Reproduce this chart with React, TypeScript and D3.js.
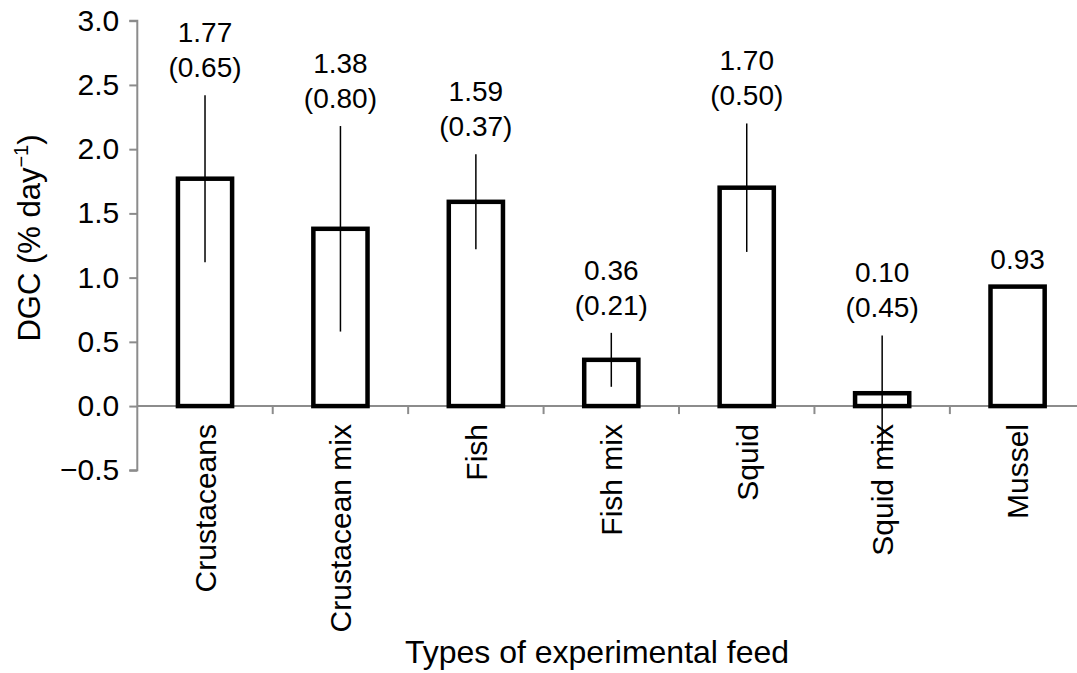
import { useRef, useEffect } from "react";
import * as d3 from "d3";

const categories = [
  "Crustaceans",
  "Crustacean mix",
  "Fish",
  "Fish mix",
  "Squid",
  "Squid mix",
  "Mussel",
];
const means = [1.77, 1.38, 1.59, 0.36, 1.7, 0.1, 0.93];
// standard deviations, null where none was reported
const sds: (number | null)[] = [0.65, 0.8, 0.37, 0.21, 0.5, 0.45, null];
const yTicks = [-0.5, 0, 0.5, 1.0, 1.5, 2.0, 2.5, 3.0];

export default function App() {
  const svgRef = useRef<SVGSVGElement>(null);
  const width = 1077;
  const height = 673;

  useEffect(() => {
    const svg = d3.select(svgRef.current);
    svg.selectAll("*").remove();

    const font = "'Liberation Sans', Arial, sans-serif";
    const axisColor = "#8c8c8c";

    const x = d3
      .scaleBand<string>()
      .domain(categories)
      .range([137.3, 1085.3])
      .padding(0);

    const y = d3.scaleLinear().domain([-0.5, 3.0]).range([470.3, 20.7]);

    const data = categories.map((c, i) => ({ cat: c, mean: means[i], sd: sds[i] }));
    const bw = x.bandwidth();
    const barW = bw * 0.4;

    // y axis
    const yAxis = d3
      .axisLeft(y)
      .tickValues(yTicks)
      .tickSize(8)
      .tickPadding(10)
      .tickFormat((d) => {
        const v = d as number;
        return v < 0 ? "\u2212" + d3.format(".1f")(-v) : d3.format(".1f")(v);
      });
    const gy = svg.append("g").attr("transform", "translate(137.3,0)").call(yAxis);
    gy.select(".domain").attr("stroke", axisColor).attr("stroke-width", 2);
    gy.selectAll(".tick line").attr("stroke", axisColor).attr("stroke-width", 2);
    gy.selectAll(".tick text")
      .attr("fill", "#000")
      .style("font-family", font)
      .style("font-size", "30px");
    gy.selectAll("path.domain").attr("d", `M-8,${y(3)}H0V${y(-0.5)}H-8`);

    // x axis at zero
    const gx = svg.append("g");
    gx.append("line")
      .attr("x1", 137.3)
      .attr("x2", width)
      .attr("y1", y(0))
      .attr("y2", y(0))
      .attr("stroke", axisColor)
      .attr("stroke-width", 2);
    gx.selectAll(".xtick")
      .data(categories.slice(1))
      .enter()
      .append("line")
      .attr("x1", (d) => x(d)!)
      .attr("x2", (d) => x(d)!)
      .attr("y1", y(0))
      .attr("y2", y(0) + 8)
      .attr("stroke", axisColor)
      .attr("stroke-width", 2);

    // bars
    svg
      .selectAll(".bar")
      .data(data)
      .enter()
      .append("rect")
      .attr("x", (d) => x(d.cat)! + bw / 2 - barW / 2)
      .attr("y", (d) => y(d.mean))
      .attr("width", barW)
      .attr("height", (d) => y(0) - y(d.mean))
      .attr("fill", "#fff")
      .attr("stroke", "#000")
      .attr("stroke-width", 4.5);

    // error bars (no caps)
    svg
      .selectAll(".err")
      .data(data.filter((d) => d.sd !== null))
      .enter()
      .append("line")
      .attr("x1", (d) => x(d.cat)! + bw / 2)
      .attr("x2", (d) => x(d.cat)! + bw / 2)
      .attr("y1", (d) => y(d.mean - (d.sd as number)))
      .attr("y2", (d) => y(d.mean + (d.sd as number)))
      .attr("stroke", "#000")
      .attr("stroke-width", 1.5);

    // value labels
    const labels = svg
      .selectAll(".lbl")
      .data(data)
      .enter()
      .append("text")
      .attr("text-anchor", "middle")
      .style("font-family", font)
      .style("font-size", "28px")
      .attr("fill", "#000");
    labels.each(function (d) {
      const t = d3.select(this);
      const cx = x(d.cat)! + bw / 2;
      const top = y(d.mean + (d.sd ?? 0)) - 18;
      if (d.sd !== null) {
        t.append("tspan").attr("x", cx).attr("y", top - 35).text(d.mean.toFixed(2));
        t.append("tspan").attr("x", cx).attr("y", top).text(`(${d.sd.toFixed(2)})`);
      } else {
        t.append("tspan").attr("x", cx).attr("y", top).text(d.mean.toFixed(2));
      }
    });

    // category labels
    svg
      .selectAll(".cat")
      .data(categories)
      .enter()
      .append("text")
      .attr("transform", (d) => `translate(${x(d)! + bw / 2},424) rotate(-90)`)
      .attr("text-anchor", "end")
      .attr("dy", "0.36em")
      .style("font-family", font)
      .style("font-size", "30px")
      .attr("fill", "#000")
      .text((d) => d);

    // axis titles
    svg
      .append("text")
      .attr("x", 597)
      .attr("y", 663)
      .attr("text-anchor", "middle")
      .style("font-family", font)
      .style("font-size", "32px")
      .attr("fill", "#000")
      .text("Types of experimental feed");

    const yt = svg
      .append("text")
      .attr("transform", "translate(40,238) rotate(-90)")
      .attr("text-anchor", "middle")
      .style("font-family", font)
      .style("font-size", "31px")
      .attr("fill", "#000");
    yt.append("tspan").text("DGC (% day");
    yt.append("tspan").attr("dy", -12).style("font-size", "20px").text("\u22121");
    yt.append("tspan").attr("dy", 12).text(")");
  }, []);

  return (
    <svg
      ref={svgRef}
      width={width}
      height={height}
      style={{ position: "absolute", left: 0, top: 0, background: "#fff" }}
    />
  );
}
